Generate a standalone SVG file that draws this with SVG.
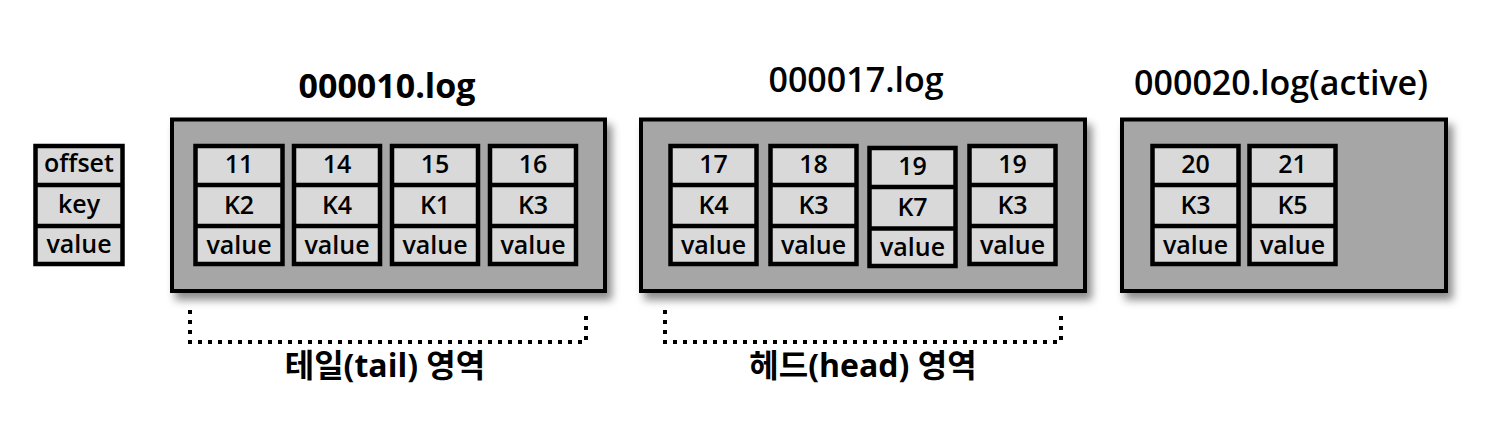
<svg xmlns="http://www.w3.org/2000/svg" width="1510" height="428" viewBox="0 0 1510 428">
<defs>
<filter id="sh" x="-5%" y="-10%" width="115%" height="130%">
<feDropShadow dx="5" dy="7" stdDeviation="4" flood-color="#000" flood-opacity="0.45"/>
</filter>
</defs>
<style>
text{font-family:"Open Sans","Noto Sans","Noto Sans CJK KR",sans-serif;fill:#000;text-anchor:middle;font-weight:600}
.file{fill:#a6a6a6;stroke:#000;stroke-width:4;filter:url(#sh)}
.cell{fill:#d9d9d9;stroke:#000;stroke-width:4.5}
.sep{stroke:#000;stroke-width:4.5}
.ct{font-size:25px}
.title{font-size:34px}
.b{font-weight:bold}
.br{fill:none;stroke:#000;stroke-width:4;stroke-dasharray:4 6}
.lbl{font-size:32px;font-weight:bold}
</style>
<g id="legend">
<rect class="cell" x="35.5" y="146" width="87" height="118"/>
<line class="sep" x1="35.5" y1="185" x2="122.5" y2="185"/>
<line class="sep" x1="35.5" y1="226" x2="122.5" y2="226"/>
<text class="ct" x="79" y="172">offset</text>
<text class="ct" x="79" y="213">key</text>
<text class="ct" x="79" y="253">value</text>
</g>
<g id="file10">
<rect class="file" x="172" y="119.5" width="433" height="171.5"/>
<text class="title b" x="387" y="98">000010.log</text>
</g>
<g id="file17">
<rect class="file" x="641" y="119.5" width="444" height="171.5"/>
<text class="title" x="856" y="92">000017.log</text>
</g>
<g id="file20">
<rect class="file" x="1122" y="119.5" width="324" height="171.5"/>
<text class="title" x="1281" y="95">000020.log(active)</text>
</g>
<g id="rec11">
<rect class="cell" x="195.5" y="146" width="87" height="118"/>
<line class="sep" x1="195.5" y1="185" x2="282.5" y2="185"/><line class="sep" x1="195.5" y1="226" x2="282.5" y2="226"/>
<text class="ct" x="239" y="173">11</text><text class="ct" x="239" y="214">K2</text><text class="ct" x="239" y="254">value</text>
</g>
<g id="rec14">
<rect class="cell" x="294" y="146" width="86" height="118"/>
<line class="sep" x1="294" y1="185" x2="380" y2="185"/><line class="sep" x1="294" y1="226" x2="380" y2="226"/>
<text class="ct" x="337" y="173">14</text><text class="ct" x="337" y="214">K4</text><text class="ct" x="337" y="254">value</text>
</g>
<g id="rec15">
<rect class="cell" x="392" y="146" width="86" height="118"/>
<line class="sep" x1="392" y1="185" x2="478" y2="185"/><line class="sep" x1="392" y1="226" x2="478" y2="226"/>
<text class="ct" x="435" y="173">15</text><text class="ct" x="435" y="214">K1</text><text class="ct" x="435" y="254">value</text>
</g>
<g id="rec16">
<rect class="cell" x="490" y="146" width="86" height="118"/>
<line class="sep" x1="490" y1="185" x2="576" y2="185"/><line class="sep" x1="490" y1="226" x2="576" y2="226"/>
<text class="ct" x="533" y="173">16</text><text class="ct" x="533" y="214">K3</text><text class="ct" x="533" y="254">value</text>
</g>
<g id="rec17">
<rect class="cell" x="670.5" y="146" width="86" height="118"/>
<line class="sep" x1="670.5" y1="185" x2="756.5" y2="185"/><line class="sep" x1="670.5" y1="226" x2="756.5" y2="226"/>
<text class="ct" x="713.5" y="173">17</text><text class="ct" x="713.5" y="214">K4</text><text class="ct" x="713.5" y="254">value</text>
</g>
<g id="rec18">
<rect class="cell" x="770.5" y="146" width="86" height="118"/>
<line class="sep" x1="770.5" y1="185" x2="856.5" y2="185"/><line class="sep" x1="770.5" y1="226" x2="856.5" y2="226"/>
<text class="ct" x="813.5" y="173">18</text><text class="ct" x="813.5" y="214">K3</text><text class="ct" x="813.5" y="254">value</text>
</g>
<g id="rec19a">
<rect class="cell" x="869.5" y="148" width="86" height="118"/>
<line class="sep" x1="869.5" y1="187" x2="955.5" y2="187"/><line class="sep" x1="869.5" y1="228.5" x2="955.5" y2="228.5"/>
<text class="ct" x="912.5" y="175">19</text><text class="ct" x="912.5" y="216">K7</text><text class="ct" x="912.5" y="256">value</text>
</g>
<g id="rec19b">
<rect class="cell" x="969.5" y="146" width="86" height="118"/>
<line class="sep" x1="969.5" y1="185" x2="1055.5" y2="185"/><line class="sep" x1="969.5" y1="226" x2="1055.5" y2="226"/>
<text class="ct" x="1012.5" y="173">19</text><text class="ct" x="1012.5" y="214">K3</text><text class="ct" x="1012.5" y="254">value</text>
</g>
<g id="rec20">
<rect class="cell" x="1152.5" y="146" width="86" height="118"/>
<line class="sep" x1="1152.5" y1="185" x2="1238.5" y2="185"/><line class="sep" x1="1152.5" y1="226" x2="1238.5" y2="226"/>
<text class="ct" x="1195.5" y="173">20</text><text class="ct" x="1195.5" y="214">K3</text><text class="ct" x="1195.5" y="254">value</text>
</g>
<g id="rec21">
<rect class="cell" x="1249.5" y="146" width="86" height="118"/>
<line class="sep" x1="1249.5" y1="185" x2="1335.5" y2="185"/><line class="sep" x1="1249.5" y1="226" x2="1335.5" y2="226"/>
<text class="ct" x="1292.5" y="173">21</text><text class="ct" x="1292.5" y="214">K5</text><text class="ct" x="1292.5" y="254">value</text>
</g>
<g id="connectors">
<path class="br" d="M190,310 V342 H586 V310"/>
<path class="br" d="M665,310 V342 H1061 V310"/>
</g>
<g id="tail">
<text class="lbl" x="385" y="377">테일(tail) 영역</text>
</g>
<g id="head">
<text class="lbl" x="863" y="377">헤드(head) 영역</text>
</g>
</svg>
